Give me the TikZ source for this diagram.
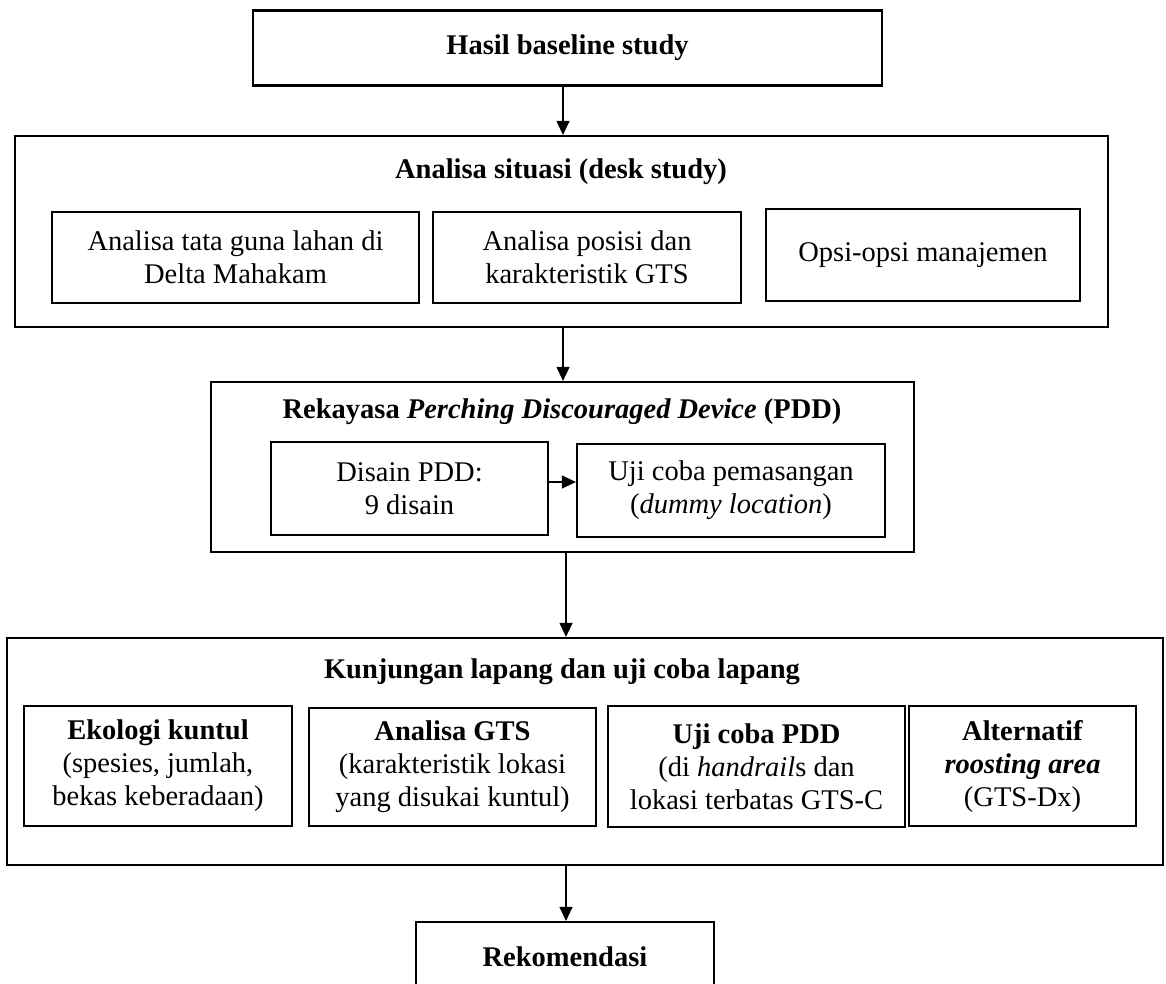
\documentclass[tikz,border=0pt]{standalone}
\usepackage{fontspec}
\setmainfont{Liberation Serif}
\usetikzlibrary{arrows.meta,calc}
\begin{document}
\begin{tikzpicture}[x=1pt,y=-1pt,
  box/.style={draw,line width=2.2pt,rectangle,inner sep=0pt,align=center,
    font=\fontsize{28.5}{33}\selectfont},
  ttl/.style={inner sep=0pt,font=\fontsize{28.5}{33}\selectfont\bfseries},
  arr/.style={line width=1.2pt,-{Triangle[length=14pt,width=13pt]}}]
\useasboundingbox (0,0) rectangle (1166,983);
% top
\node[box,minimum width=629pt,minimum height=75pt,font=\fontsize{28.5}{33}\selectfont\bfseries] (hasil) at (567.5,48) {Hasil baseline study};
% analisa situasi
\node[box,minimum width=1093pt,minimum height=191pt] (analisa) at (561.5,231.5) {};
\node[ttl] (analisaT) at (561,172) {Analisa situasi (desk study)};
\node[box,minimum width=367pt,minimum height=91pt] (a1) at (235.5,257.5) {Analisa tata guna lahan di\\Delta Mahakam};
\node[box,minimum width=308pt,minimum height=91pt] (a2) at (587,257.5) {Analisa posisi dan\\karakteristik GTS};
\node[box,minimum width=314pt,minimum height=92pt] (a3) at (923,255) {Opsi-opsi manajemen};
% PDD
\node[box,minimum width=703pt,minimum height=170pt] (pdd) at (562.5,467) {};
\node[ttl] (pddT) at (562,412) {Rekayasa \textit{Perching Discouraged Device} (PDD)};
\node[box,minimum width=277pt,minimum height=93pt] (p1) at (409.5,488.5) {Disain PDD:\\9 disain};
\node[box,minimum width=308pt,minimum height=93pt] (p2) at (731,490.5) {Uji coba pemasangan\\(\textit{dummy location})};
% Kunjungan
\node[box,minimum width=1156pt,minimum height=227pt] (kunj) at (585,751.5) {};
\node[ttl] (kunjT) at (562,672) {Kunjungan lapang dan uji coba lapang};
\node[box,minimum width=268pt,minimum height=120pt] (k1) at (158,766) {\textbf{Ekologi kuntul}\\(spesies, jumlah,\\bekas keberadaan)};
\node[box,minimum width=287pt,minimum height=118pt] (k2) at (452.5,767) {\textbf{Analisa GTS}\\(karakteristik lokasi\\yang disukai kuntul)};
\node[box,minimum width=297pt,minimum height=121pt] (k3) at (756.5,766.5) {\textbf{Uji coba PDD}\\(di \textit{handrail}s dan\\lokasi terbatas GTS-C};
\node[box,minimum width=227pt,minimum height=120pt] (k4) at (1022.5,766) {\textbf{Alternatif}\\\textbf{\textit{roosting area}}\\(GTS-Dx)};
% Rekomendasi
\node[box,minimum width=298pt,minimum height=70pt,font=\fontsize{28.5}{33}\selectfont\bfseries] (rek) at (565,957) {Rekomendasi};
% arrows
\coordinate (c1) at (563,0);
\coordinate (c2) at (566,0);
\draw[arr] (hasil.south -| c1) -- (analisa.north -| c1);
\draw[arr] (analisa.south -| c1) -- (pdd.north -| c1);
\draw[arr] (pdd.south -| c2) -- (kunj.north -| c2);
\draw[arr] (kunj.south -| c2) -- (rek.north -| c2);
\draw[arr] (p1.east |- 0,482) -- (p2.west |- 0,482);
\end{tikzpicture}
\end{document}
